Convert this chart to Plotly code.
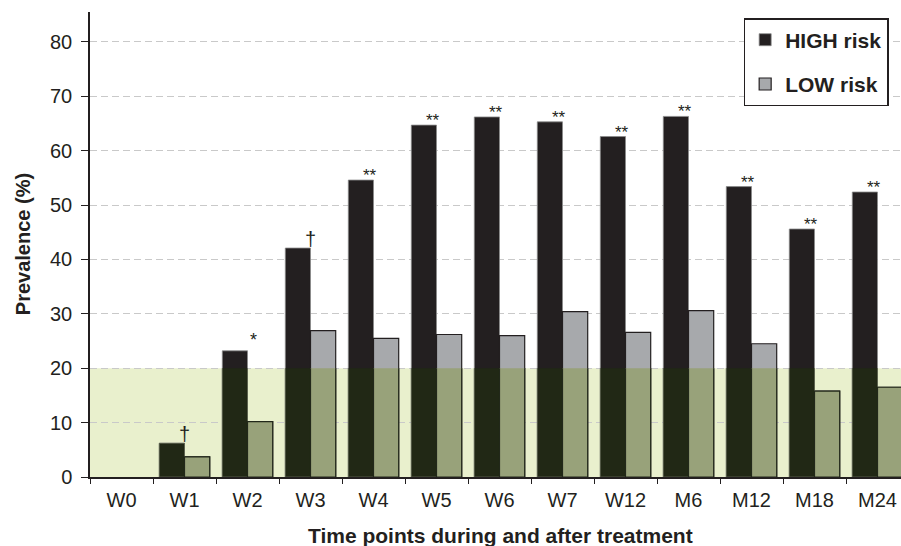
import plotly.graph_objects as go

# Prevalence (%) per time point for the two risk groups
time_points = ["W0", "W1", "W2", "W3", "W4", "W5", "W6", "W7", "W12", "M6", "M12", "M18", "M24"]
high_risk = [0, 6.2, 23.2, 42.1, 54.6, 64.7, 66.2, 65.3, 62.6, 66.3, 53.4, 45.6, 52.4]
low_risk = [0, 3.7, 10.2, 26.9, 25.5, 26.2, 26.0, 30.4, 26.6, 30.6, 24.5, 15.8, 16.5]
significance = ["", "†", "*", "†", "**", "**", "**", "**", "**", "**", "**", "**", "**"]

threshold = 20          # shaded reference band 0–threshold
y_top = 85.5            # upper end of the value axis
x_end = 12.373          # right end of the category axis

INK = "#231f20"
FONT = "Liberation Sans, Arial, sans-serif"


def nonzero(values):
    # empty bars are left out, so no outline is drawn along the baseline
    pts = [(t, v) for t, v in zip(time_points, values) if v > 0]
    return [p[0] for p in pts], [p[1] for p in pts]


hx, hy = nonzero(high_risk)
lx, ly = nonzero(low_risk)

fig = go.Figure()

# main bars
fig.add_trace(go.Bar(
    x=hx, y=hy, name="HIGH risk",
    marker=dict(color=INK, line=dict(color="#8a8a8a", width=0.8)),
    xaxis="x", yaxis="y", legendgroup="high",
))
fig.add_trace(go.Bar(
    x=lx, y=ly, name="LOW risk",
    marker=dict(color="#a7a9ac", line=dict(color=INK, width=1.2)),
    xaxis="x", yaxis="y", legendgroup="low",
))

# same bars again, seen through the tinted band (clipped to 0–threshold)
fig.add_trace(go.Bar(
    x=hx, y=hy, showlegend=False, hoverinfo="skip",
    marker=dict(color="#212815", line=dict(color="#5f6650", width=0.8)),
    xaxis="x2", yaxis="y2",
))
fig.add_trace(go.Bar(
    x=lx, y=ly, showlegend=False, hoverinfo="skip",
    marker=dict(color="#98a27a", line=dict(color="#22281a", width=1.2)),
    xaxis="x2", yaxis="y2",
))

# tinted band background
fig.add_shape(type="rect", xref="paper", yref="y", x0=0, x1=1, y0=0, y1=threshold,
              fillcolor="#e9f0cd", line=dict(width=0), layer="below")

# significance marks above the HIGH risk bars
mark_style = {
    "†": dict(dx=0.0, size=20, yshift=-4),
    "*": dict(dx=0.09, size=18, yshift=-1),
    "**": dict(dx=-0.06, size=17, yshift=-7),
}
for i, (v, s) in enumerate(zip(high_risk, significance)):
    if not s:
        continue
    st = mark_style[s]
    fig.add_annotation(
        x=i + st["dx"], y=v, xref="x", yref="y", text=s, showarrow=False,
        yanchor="bottom", xanchor="center", yshift=st["yshift"],
        font=dict(family=FONT, size=st["size"], color=INK),
    )

# axis titles
fig.add_annotation(
    x=0.506, y=-0.154, xref="paper", yref="paper", xanchor="center", yanchor="bottom",
    text="<b>Time points during and after treatment</b>", showarrow=False,
    font=dict(family=FONT, size=21, color=INK),
)
fig.add_annotation(
    x=-0.083, y=0.5, xref="paper", yref="paper", xanchor="center", yanchor="middle",
    text="<b>Prevalence (%)</b>", textangle=-90, showarrow=False,
    font=dict(family=FONT, size=20, color=INK),
)

category_axis = dict(type="category", categoryorder="array", categoryarray=time_points,
                     domain=[0, 1], range=[-0.5, x_end])

fig.update_layout(
    width=901, height=546,
    margin=dict(l=90, r=0, t=12, b=69),
    paper_bgcolor="white", plot_bgcolor="rgba(0,0,0,0)",
    barmode="group", bargap=0.2, bargroupgap=0,
    font=dict(family=FONT, color=INK),
    showlegend=True,
    legend=dict(
        x=0.806, y=0.987, xanchor="left", yanchor="top",
        bgcolor="white", bordercolor=INK, borderwidth=1.5,
        font=dict(family=FONT, size=21, color=INK, weight="bold"),
        traceorder="grouped", tracegroupgap=14,
    ),
    xaxis=dict(
        **category_axis,
        showline=True, linecolor=INK, linewidth=1.5,
        ticks="outside", tickson="boundaries", ticklen=5, tickcolor=INK, tickwidth=1,
        tickfont=dict(family=FONT, size=20, color=INK), ticklabelstandoff=4,
        showgrid=False, zeroline=False,
    ),
    yaxis=dict(
        domain=[0, 1], range=[0, y_top],
        tickvals=[0, 10, 20, 30, 40, 50, 60, 70, 80],
        showline=True, linecolor=INK, linewidth=1.5,
        ticks="outside", ticklen=7, tickcolor=INK, tickwidth=1,
        tickfont=dict(family=FONT, size=20, color=INK), ticklabelstandoff=5,
        showgrid=True, gridcolor="#c9c9c9", gridwidth=1.2, griddash="7px,4px",
        zeroline=False,
    ),
    xaxis2=dict(
        **category_axis, anchor="y2",
        showline=True, linecolor=INK, linewidth=1.5,
        showticklabels=False, ticks="", showgrid=False, zeroline=False,
    ),
    yaxis2=dict(
        domain=[0, threshold / y_top], range=[0, threshold], anchor="x2",
        visible=False, showgrid=False, zeroline=False,
    ),
)

fig.write_html("out.html")
